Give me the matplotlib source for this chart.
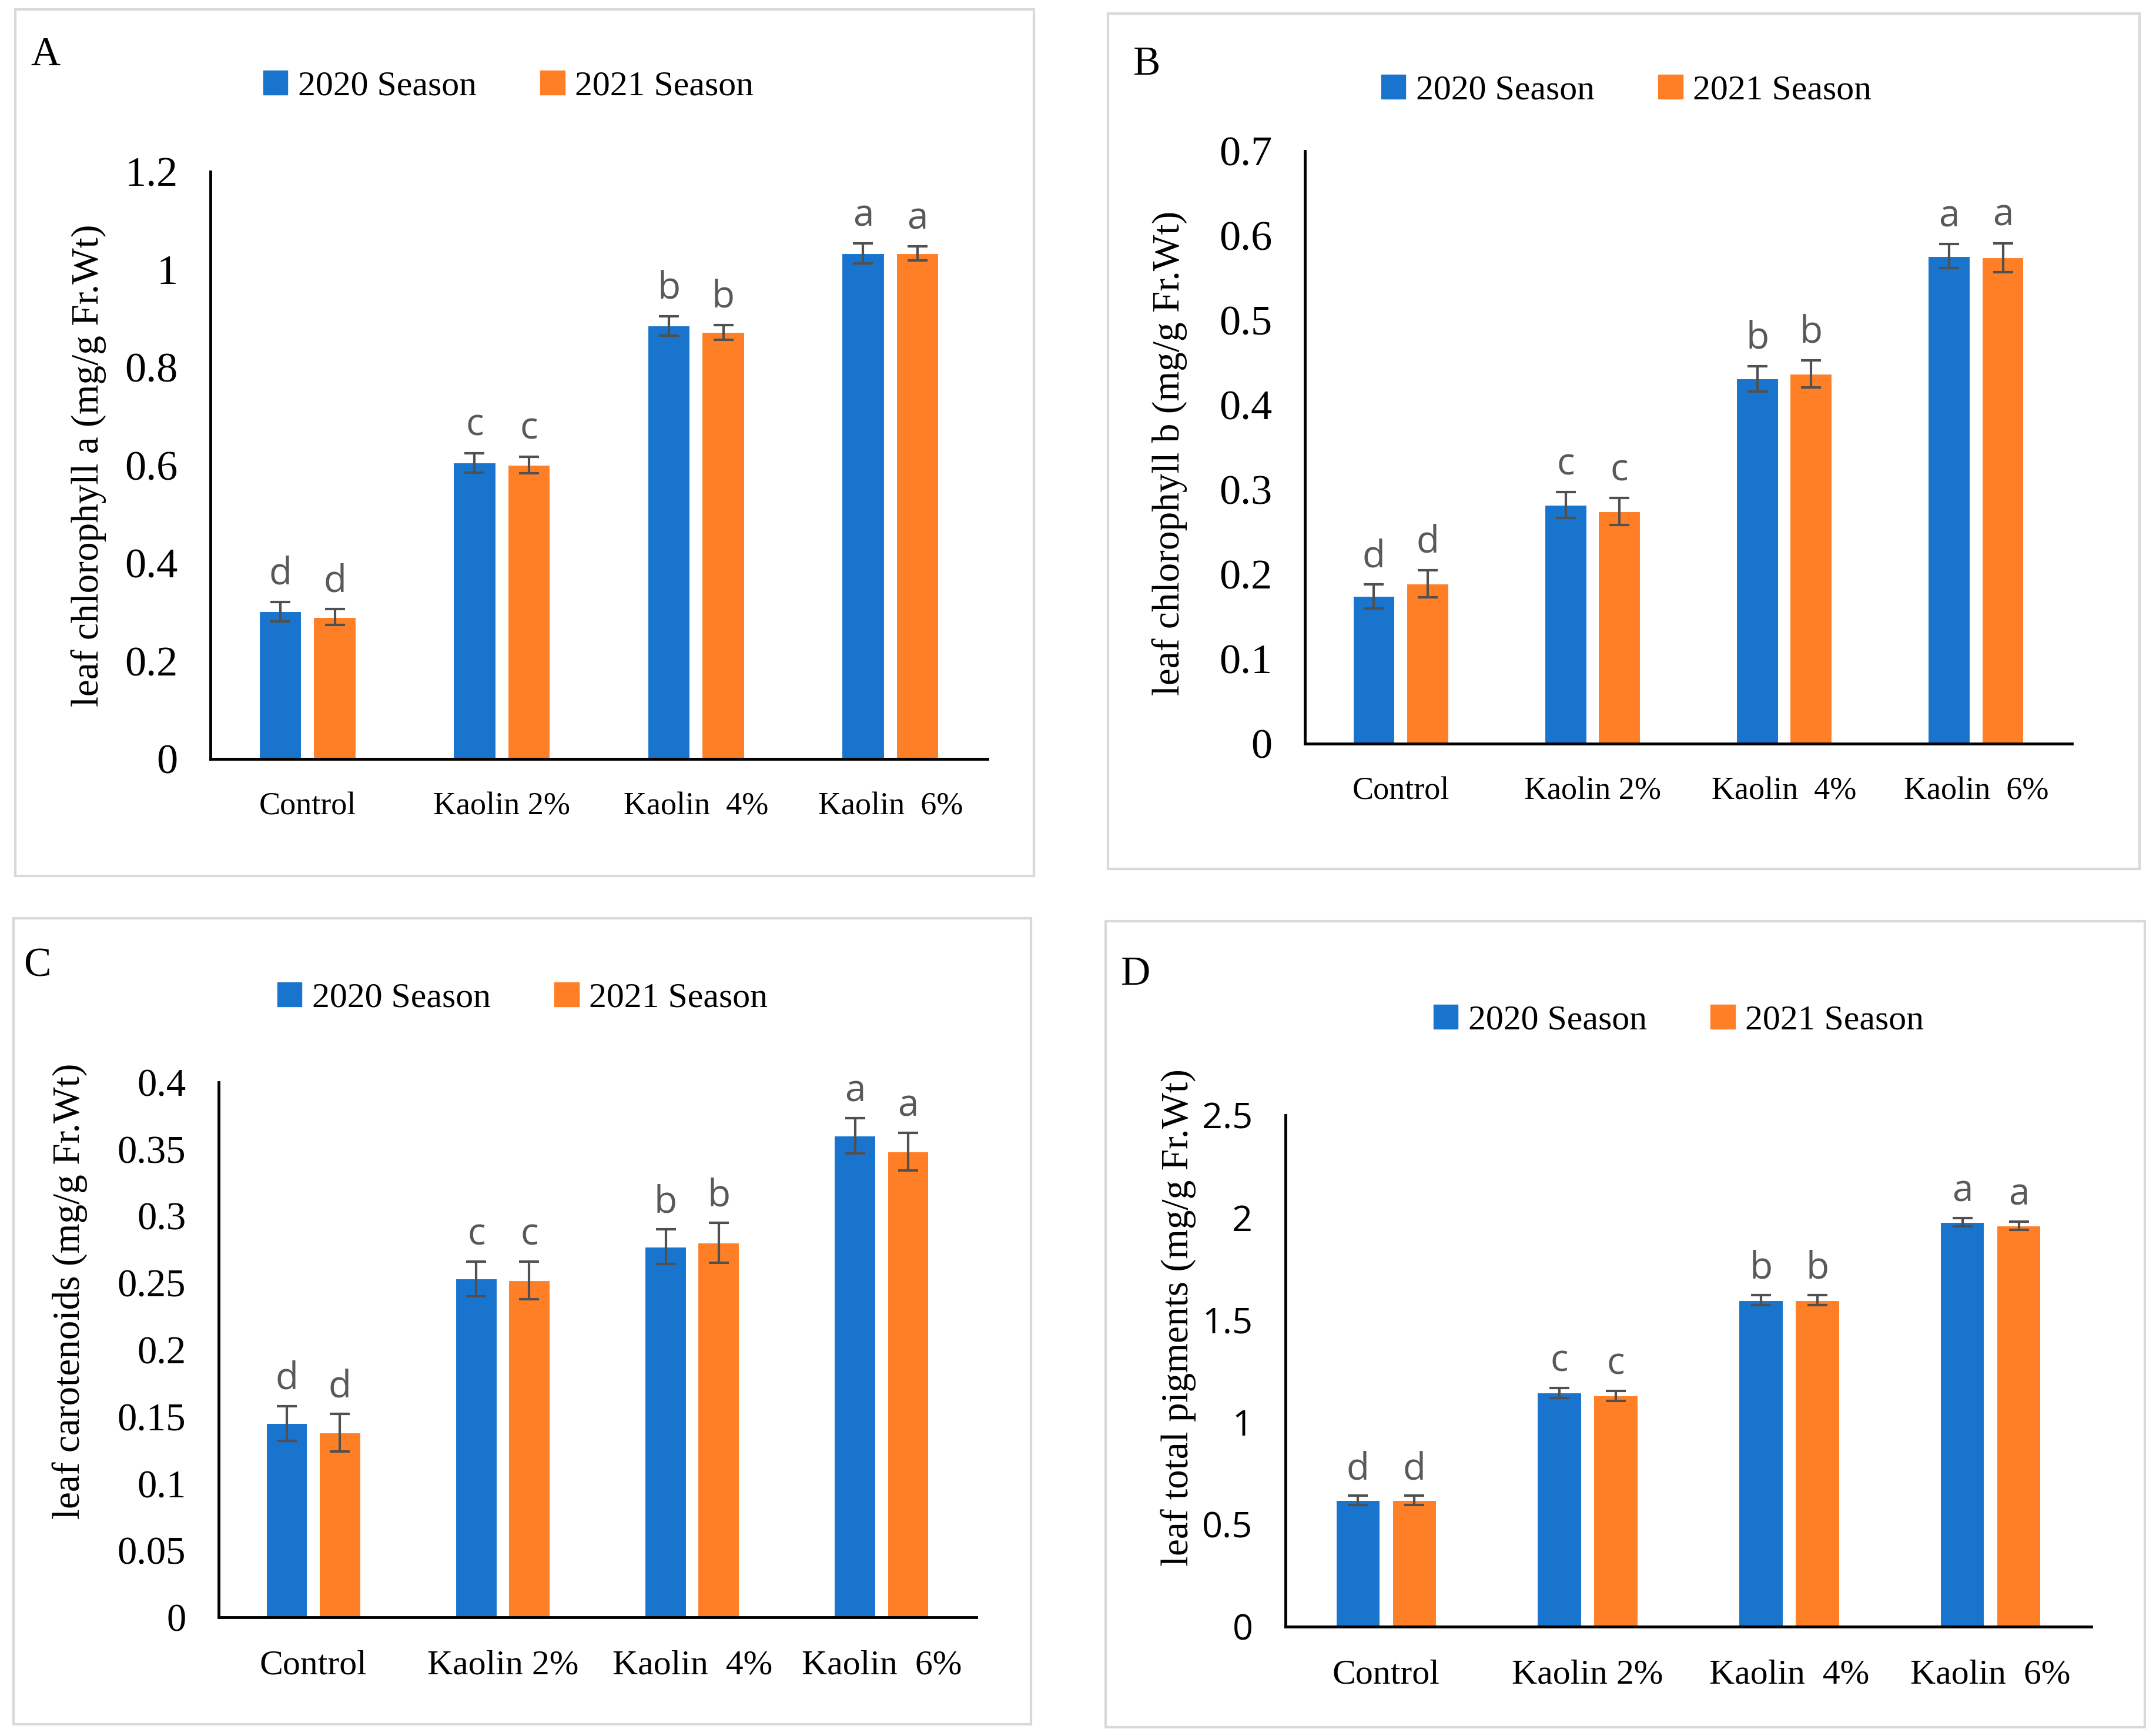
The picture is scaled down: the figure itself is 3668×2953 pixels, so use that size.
import numpy as np
import matplotlib
matplotlib.use("Agg")
import matplotlib.pyplot as plt
from matplotlib.patches import Patch, Rectangle

# 数据
categories = ['Control', 'Kaolin 2%', 'Kaolin  4%', 'Kaolin  6%']
season_labels = ['2020 Season', '2021 Season']
letters = ['d', 'c', 'b', 'a']

chl_a_2020 = [0.301, 0.605, 0.885, 1.033]
chl_a_2021 = [0.290, 0.601, 0.872, 1.033]
chl_a_err_2020 = [0.020, 0.020, 0.020, 0.020]
chl_a_err_2021 = [0.016, 0.017, 0.015, 0.014]

chl_b_2020 = [0.174, 0.282, 0.431, 0.576]
chl_b_2021 = [0.189, 0.274, 0.437, 0.574]
chl_b_err_2020 = [0.014, 0.015, 0.015, 0.014]
chl_b_err_2021 = [0.016, 0.016, 0.016, 0.017]

carot_2020 = [0.145, 0.253, 0.277, 0.360]
carot_2021 = [0.138, 0.252, 0.280, 0.348]
carot_err_2020 = [0.013, 0.013, 0.013, 0.013]
carot_err_2021 = [0.014, 0.014, 0.015, 0.014]

total_2020 = [0.617, 1.143, 1.596, 1.977]
total_2021 = [0.617, 1.128, 1.596, 1.961]
total_err_2020 = [0.023, 0.025, 0.025, 0.020]
total_err_2021 = [0.023, 0.025, 0.025, 0.020]

blue = '#1874CD'
orange = '#FF7F27'
serif = 'Liberation Serif'
sans = 'Open Sans'

W, H = 3668, 2953
fig = plt.figure(figsize=(W / 100, H / 100), dpi=100)


def px_axes(x0, y0, x1, y1):
    # 像素坐标 -> 图坐标
    return fig.add_axes([x0 / W, 1 - y1 / H, (x1 - x0) / W, (y1 - y0) / H])


def draw_panel(frame, axbox, letter, letter_xy, legend_xy, v1, v2, e1, e2,
               ymax, ystep, ylabel, ylabel_xy, tick_font, tick_size, cat_size):
    # 面板外框
    fx0, fy0, fx1, fy1 = frame
    fig.patches.append(Rectangle((fx0 / W, 1 - fy1 / H), (fx1 - fx0) / W, (fy1 - fy0) / H,
                                 transform=fig.transFigure, fill=False,
                                 edgecolor='#D9D9D9', linewidth=3))
    fig.text(letter_xy[0] / W, 1 - letter_xy[1] / H, letter, fontsize=50,
             family=serif, ha='center', va='center')

    ax = px_axes(*axbox)
    x = np.arange(len(categories))
    w = 0.22
    off = 0.14
    ax.bar(x - off, v1, w, color=blue, edgecolor='white', linewidth=1.5, zorder=2)
    ax.bar(x + off, v2, w, color=orange, edgecolor='white', linewidth=1.5, zorder=2)
    ax.errorbar(x - off, v1, yerr=e1, fmt='none', ecolor='#505050', elinewidth=3,
                capsize=12, capthick=3, zorder=3)
    ax.errorbar(x + off, v2, yerr=e2, fmt='none', ecolor='#505050', elinewidth=3,
                capsize=12, capthick=3, zorder=3)
    for i in range(len(categories)):
        ax.text(x[i] - off, v1[i] + e1[i] + ymax * 0.015, letters[i], ha='center',
                va='bottom', fontsize=46, color='#595959', family=sans)
        ax.text(x[i] + off, v2[i] + e2[i] + ymax * 0.015, letters[i], ha='center',
                va='bottom', fontsize=46, color='#595959', family=sans)

    ax.set_xlim(-0.5, 3.5)
    ax.set_ylim(0, ymax)
    ticks = np.arange(0, ymax + ystep / 2, ystep)
    ax.set_yticks(ticks)
    ax.set_yticklabels([('%.2f' % t).rstrip('0').rstrip('.') for t in ticks],
                       family=tick_font, fontsize=tick_size)
    ax.set_xticks(x)
    ax.set_xticklabels(categories, family=serif, fontsize=cat_size)
    ax.tick_params(axis='both', length=0)
    ax.tick_params(axis='y', pad=40)
    ax.tick_params(axis='x', pad=40)
    for s in ['top', 'right']:
        ax.spines[s].set_visible(False)
    for s in ['left', 'bottom']:
        ax.spines[s].set_linewidth(3.5)
        ax.spines[s].set_color('black')
    ax.set_ylabel(ylabel, family=serif, fontsize=47)
    ax.yaxis.set_label_coords(*ylabel_xy)

    handles = [Patch(color=blue, label=season_labels[0]),
               Patch(color=orange, label=season_labels[1])]
    fig.legend(handles=handles, loc='center', ncol=2, frameon=False,
               bbox_to_anchor=(legend_xy[0] / W, 1 - legend_xy[1] / H),
               prop={'family': serif, 'size': 43}, handlelength=0.7,
               handleheight=0.7, handletextpad=0.3, columnspacing=1.8)
    return ax


draw_panel((26, 16, 1759, 1490), (358, 292, 1680, 1291), 'A', (77, 94), (865, 147),
           chl_a_2020, chl_a_2021, chl_a_err_2020, chl_a_err_2021,
           1.2, 0.2, 'leaf chlorophyll a (mg/g Fr.Wt)', (-0.134, 0.5),
           serif, 52, 39)

draw_panel((1885, 23, 3640, 1478), (2220, 257, 3525, 1265), 'B', (1951, 110), (2767, 154),
           chl_b_2020, chl_b_2021, chl_b_err_2020, chl_b_err_2021,
           0.7, 0.1, 'leaf chlorophyll b (mg/g Fr.Wt)', (-0.153, 0.49),
           serif, 52, 39)

draw_panel((23, 1562, 1754, 2933), (372, 1841, 1661, 2751), 'C', (63, 1644), (889, 1698),
           carot_2020, carot_2021, carot_err_2020, carot_err_2021,
           0.4, 0.05, 'leaf carotenoids (mg/g Fr.Wt)', (-0.173, 0.61),
           serif, 48, 43)

draw_panel((1881, 1567, 3649, 2938), (2187, 1897, 3558, 2767), 'D', (1932, 1658), (2856, 1736),
           total_2020, total_2021, total_err_2020, total_err_2021,
           2.5, 0.5, 'leaf total pigments (mg/g Fr.Wt)', (-0.111, 0.605),
           sans, 44, 43)

fig.savefig('out.png', dpi=100, facecolor='white')
